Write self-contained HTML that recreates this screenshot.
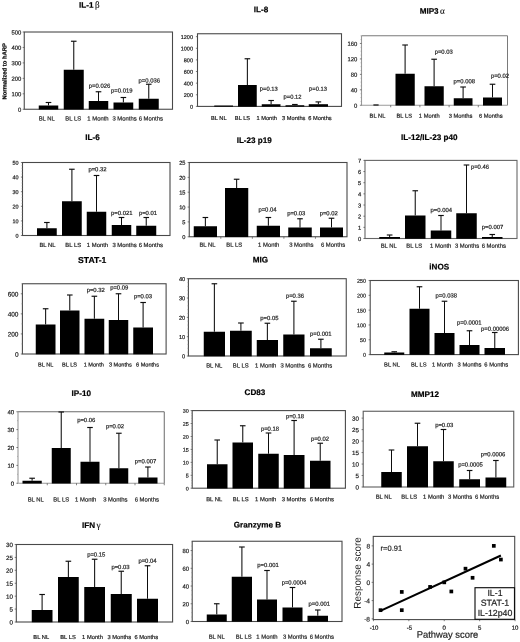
<!DOCTYPE html>
<html><head><meta charset="utf-8"><title>Figure</title>
<style>
html,body{margin:0;padding:0;background:#fff;}
body{width:520px;height:642px;overflow:hidden;font-family:"Liberation Sans",sans-serif;}
svg{display:block;font-family:"Liberation Sans",sans-serif;}
</style></head><body>
<svg width="520" height="642" viewBox="0 0 520 642">
<defs><filter id="bl" x="0" y="0" width="100%" height="100%" filterUnits="userSpaceOnUse"><feGaussianBlur stdDeviation="0.35"/></filter></defs>
<rect width="520" height="642" fill="#fff"/>
<g filter="url(#bl)">
<g id="IL-1">
<rect x="24.25" y="32" width="148.25" height="77.25" fill="none" stroke="#4a4a4a" stroke-width="1.1"/>
<line x1="22.65" y1="109.25" x2="24.25" y2="109.25" stroke="#4a4a4a" stroke-width="0.7"/>
<text transform="translate(21.25,111.66) rotate(0.05)" font-size="5.9" text-anchor="end" stroke="#222" stroke-width="0.2" fill="#222">0</text>
<line x1="22.65" y1="93.8" x2="24.25" y2="93.8" stroke="#4a4a4a" stroke-width="0.7"/>
<text transform="translate(21.25,96.21) rotate(0.05)" font-size="5.9" text-anchor="end" stroke="#222" stroke-width="0.2" fill="#222">100</text>
<line x1="22.65" y1="78.35" x2="24.25" y2="78.35" stroke="#4a4a4a" stroke-width="0.7"/>
<text transform="translate(21.25,80.76) rotate(0.05)" font-size="5.9" text-anchor="end" stroke="#222" stroke-width="0.2" fill="#222">200</text>
<line x1="22.65" y1="62.9" x2="24.25" y2="62.9" stroke="#4a4a4a" stroke-width="0.7"/>
<text transform="translate(21.25,65.31) rotate(0.05)" font-size="5.9" text-anchor="end" stroke="#222" stroke-width="0.2" fill="#222">300</text>
<line x1="22.65" y1="47.45" x2="24.25" y2="47.45" stroke="#4a4a4a" stroke-width="0.7"/>
<text transform="translate(21.25,49.86) rotate(0.05)" font-size="5.9" text-anchor="end" stroke="#222" stroke-width="0.2" fill="#222">400</text>
<line x1="22.65" y1="32" x2="24.25" y2="32" stroke="#4a4a4a" stroke-width="0.7"/>
<text transform="translate(21.25,34.41) rotate(0.05)" font-size="5.9" text-anchor="end" stroke="#222" stroke-width="0.2" fill="#222">500</text>
<rect x="38.75" y="105.5" width="19.5" height="4.05" fill="#050505"/>
<line x1="48.5" y1="105.5" x2="48.5" y2="102.5" stroke="#111" stroke-width="1.05"/>
<line x1="45.7" y1="102.5" x2="51.3" y2="102.5" stroke="#111" stroke-width="1.15"/>
<rect x="63.75" y="69.75" width="20" height="39.8" fill="#050505"/>
<line x1="73.75" y1="69.75" x2="73.75" y2="41.25" stroke="#111" stroke-width="1.05"/>
<line x1="70.95" y1="41.25" x2="76.55" y2="41.25" stroke="#111" stroke-width="1.15"/>
<rect x="88.75" y="101" width="19.5" height="8.55" fill="#050505"/>
<line x1="98.5" y1="101" x2="98.5" y2="91.75" stroke="#111" stroke-width="1.05"/>
<line x1="95.7" y1="91.75" x2="101.3" y2="91.75" stroke="#111" stroke-width="1.15"/>
<rect x="113.5" y="102.5" width="19.75" height="7.05" fill="#050505"/>
<line x1="123.38" y1="102.5" x2="123.38" y2="97.5" stroke="#111" stroke-width="1.05"/>
<line x1="120.58" y1="97.5" x2="126.17" y2="97.5" stroke="#111" stroke-width="1.15"/>
<rect x="138.75" y="98.75" width="20" height="10.8" fill="#050505"/>
<line x1="148.75" y1="98.75" x2="148.75" y2="84.25" stroke="#111" stroke-width="1.05"/>
<line x1="145.95" y1="84.25" x2="151.55" y2="84.25" stroke="#111" stroke-width="1.15"/>
<text transform="translate(99.5,87.66) rotate(0.05)" font-size="5.9" text-anchor="middle" stroke="#222" stroke-width="0.2" fill="#222">p=0.026</text>
<text transform="translate(121.75,92.41) rotate(0.05)" font-size="5.9" text-anchor="middle" stroke="#222" stroke-width="0.2" fill="#222">p=0.019</text>
<text transform="translate(149.25,82.41) rotate(0.05)" font-size="5.9" text-anchor="middle" stroke="#222" stroke-width="0.2" fill="#222">p=0.036</text>
<text transform="translate(46.75,120.51) rotate(0.05)" font-size="5.9" text-anchor="middle" stroke="#222" stroke-width="0.2" fill="#222">BL NL</text>
<text transform="translate(73.25,120.51) rotate(0.05)" font-size="5.9" text-anchor="middle" stroke="#222" stroke-width="0.2" fill="#222">BL LS</text>
<text transform="translate(98,120.51) rotate(0.05)" font-size="5.9" text-anchor="middle" stroke="#222" stroke-width="0.2" fill="#222">1 Month</text>
<text transform="translate(124.5,120.51) rotate(0.05)" font-size="5.9" text-anchor="middle" stroke="#222" stroke-width="0.2" fill="#222">3 Months</text>
<text transform="translate(150.75,120.51) rotate(0.05)" font-size="5.9" text-anchor="middle" stroke="#222" stroke-width="0.2" fill="#222">6 Months</text>
<text transform="translate(89.3,7.72) rotate(0.05)" font-size="8.15" text-anchor="middle" font-weight="bold" stroke="#000" stroke-width="0.2" fill="#000">IL-1<tspan font-weight="normal" stroke-width="0.1" font-family="Liberation Serif, serif" font-size="9.15" dx="1.4">β</tspan></text>
</g>
<g id="IL-8">
<rect x="197.5" y="33.75" width="144" height="72.65" fill="none" stroke="#4a4a4a" stroke-width="1.1"/>
<line x1="195.9" y1="106.4" x2="197.5" y2="106.4" stroke="#4a4a4a" stroke-width="0.7"/>
<text transform="translate(193,108.67) rotate(0.05)" font-size="5.5" text-anchor="end" stroke="#222" stroke-width="0.2" fill="#222">0</text>
<line x1="195.9" y1="94.78" x2="197.5" y2="94.78" stroke="#4a4a4a" stroke-width="0.7"/>
<text transform="translate(193,97.05) rotate(0.05)" font-size="5.5" text-anchor="end" stroke="#222" stroke-width="0.2" fill="#222">200</text>
<line x1="195.9" y1="83.15" x2="197.5" y2="83.15" stroke="#4a4a4a" stroke-width="0.7"/>
<text transform="translate(193,85.42) rotate(0.05)" font-size="5.5" text-anchor="end" stroke="#222" stroke-width="0.2" fill="#222">400</text>
<line x1="195.9" y1="71.53" x2="197.5" y2="71.53" stroke="#4a4a4a" stroke-width="0.7"/>
<text transform="translate(193,73.8) rotate(0.05)" font-size="5.5" text-anchor="end" stroke="#222" stroke-width="0.2" fill="#222">600</text>
<line x1="195.9" y1="59.9" x2="197.5" y2="59.9" stroke="#4a4a4a" stroke-width="0.7"/>
<text transform="translate(193,62.17) rotate(0.05)" font-size="5.5" text-anchor="end" stroke="#222" stroke-width="0.2" fill="#222">800</text>
<line x1="195.9" y1="48.28" x2="197.5" y2="48.28" stroke="#4a4a4a" stroke-width="0.7"/>
<text transform="translate(193,50.55) rotate(0.05)" font-size="5.5" text-anchor="end" stroke="#222" stroke-width="0.2" fill="#222">1000</text>
<line x1="195.9" y1="36.66" x2="197.5" y2="36.66" stroke="#4a4a4a" stroke-width="0.7"/>
<text transform="translate(193,38.93) rotate(0.05)" font-size="5.5" text-anchor="end" stroke="#222" stroke-width="0.2" fill="#222">1200</text>
<rect x="214.25" y="105.5" width="18.75" height="1.2" fill="#050505"/>
<rect x="238" y="85" width="18.75" height="21.7" fill="#050505"/>
<line x1="247.38" y1="85" x2="247.38" y2="58.75" stroke="#111" stroke-width="1.05"/>
<line x1="244.57" y1="58.75" x2="250.18" y2="58.75" stroke="#111" stroke-width="1.15"/>
<rect x="261.75" y="104.25" width="18.75" height="2.45" fill="#050505"/>
<line x1="271.12" y1="104.25" x2="271.12" y2="100.5" stroke="#111" stroke-width="1.05"/>
<line x1="268.32" y1="100.5" x2="273.93" y2="100.5" stroke="#111" stroke-width="1.15"/>
<rect x="285.5" y="105.25" width="18.75" height="1.45" fill="#050505"/>
<line x1="294.88" y1="105.25" x2="294.88" y2="104.5" stroke="#111" stroke-width="1.05"/>
<line x1="292.07" y1="104.5" x2="297.68" y2="104.5" stroke="#111" stroke-width="1.15"/>
<rect x="308.75" y="104.2" width="19.25" height="2.5" fill="#050505"/>
<line x1="318.38" y1="104.2" x2="318.38" y2="101.9" stroke="#111" stroke-width="1.05"/>
<line x1="315.57" y1="101.9" x2="321.18" y2="101.9" stroke="#111" stroke-width="1.15"/>
<text transform="translate(268.75,90.63) rotate(0.05)" font-size="5.8" text-anchor="middle" stroke="#222" stroke-width="0.2" fill="#222">p=0.13</text>
<text transform="translate(292.5,98.63) rotate(0.05)" font-size="5.8" text-anchor="middle" stroke="#222" stroke-width="0.2" fill="#222">p=0.12</text>
<text transform="translate(318,90.63) rotate(0.05)" font-size="5.8" text-anchor="middle" stroke="#222" stroke-width="0.2" fill="#222">p=0.13</text>
<text transform="translate(218.75,120.04) rotate(0.05)" font-size="5.7" text-anchor="middle" stroke="#222" stroke-width="0.2" fill="#222">BL NL</text>
<text transform="translate(242.5,120.04) rotate(0.05)" font-size="5.7" text-anchor="middle" stroke="#222" stroke-width="0.2" fill="#222">BL LS</text>
<text transform="translate(266.75,120.04) rotate(0.05)" font-size="5.7" text-anchor="middle" stroke="#222" stroke-width="0.2" fill="#222">1 Month</text>
<text transform="translate(293.75,120.04) rotate(0.05)" font-size="5.7" text-anchor="middle" stroke="#222" stroke-width="0.2" fill="#222">3 Months</text>
<text transform="translate(320,120.04) rotate(0.05)" font-size="5.7" text-anchor="middle" stroke="#222" stroke-width="0.2" fill="#222">6 Months</text>
<text transform="translate(261,12.32) rotate(0.05)" font-size="8.15" text-anchor="middle" font-weight="bold" stroke="#000" stroke-width="0.2" fill="#000">IL-8</text>
</g>
<g id="MIP3a">
<path d="M361.5 35.75H507.5V105.25" fill="none" stroke="#7a7a7a" stroke-width="1"/>
<path d="M361.5 35.75V105.25H507.5" fill="none" stroke="#9a9a9a" stroke-width="1.1"/>
<line x1="359.9" y1="105.25" x2="361.5" y2="105.25" stroke="#4a4a4a" stroke-width="0.7"/>
<text transform="translate(357.25,107.66) rotate(0.05)" font-size="5.9" text-anchor="end" stroke="#222" stroke-width="0.2" fill="#222">0</text>
<line x1="359.9" y1="89.81" x2="361.5" y2="89.81" stroke="#4a4a4a" stroke-width="0.7"/>
<text transform="translate(357.25,92.22) rotate(0.05)" font-size="5.9" text-anchor="end" stroke="#222" stroke-width="0.2" fill="#222">40</text>
<line x1="359.9" y1="74.36" x2="361.5" y2="74.36" stroke="#4a4a4a" stroke-width="0.7"/>
<text transform="translate(357.25,76.77) rotate(0.05)" font-size="5.9" text-anchor="end" stroke="#222" stroke-width="0.2" fill="#222">80</text>
<line x1="359.9" y1="58.92" x2="361.5" y2="58.92" stroke="#4a4a4a" stroke-width="0.7"/>
<text transform="translate(357.25,61.33) rotate(0.05)" font-size="5.9" text-anchor="end" stroke="#222" stroke-width="0.2" fill="#222">120</text>
<line x1="359.9" y1="43.47" x2="361.5" y2="43.47" stroke="#4a4a4a" stroke-width="0.7"/>
<text transform="translate(357.25,45.88) rotate(0.05)" font-size="5.9" text-anchor="end" stroke="#222" stroke-width="0.2" fill="#222">160</text>
<line x1="360.5" y1="101.39" x2="361.5" y2="101.39" stroke="#8a8a8a" stroke-width="0.5"/>
<line x1="360.5" y1="97.53" x2="361.5" y2="97.53" stroke="#8a8a8a" stroke-width="0.5"/>
<line x1="360.5" y1="93.67" x2="361.5" y2="93.67" stroke="#8a8a8a" stroke-width="0.5"/>
<line x1="360.5" y1="85.94" x2="361.5" y2="85.94" stroke="#8a8a8a" stroke-width="0.5"/>
<line x1="360.5" y1="82.08" x2="361.5" y2="82.08" stroke="#8a8a8a" stroke-width="0.5"/>
<line x1="360.5" y1="78.22" x2="361.5" y2="78.22" stroke="#8a8a8a" stroke-width="0.5"/>
<line x1="360.5" y1="70.5" x2="361.5" y2="70.5" stroke="#8a8a8a" stroke-width="0.5"/>
<line x1="360.5" y1="66.64" x2="361.5" y2="66.64" stroke="#8a8a8a" stroke-width="0.5"/>
<line x1="360.5" y1="62.78" x2="361.5" y2="62.78" stroke="#8a8a8a" stroke-width="0.5"/>
<line x1="360.5" y1="55.06" x2="361.5" y2="55.06" stroke="#8a8a8a" stroke-width="0.5"/>
<line x1="360.5" y1="51.19" x2="361.5" y2="51.19" stroke="#8a8a8a" stroke-width="0.5"/>
<line x1="360.5" y1="47.33" x2="361.5" y2="47.33" stroke="#8a8a8a" stroke-width="0.5"/>
<line x1="360.5" y1="39.61" x2="361.5" y2="39.61" stroke="#8a8a8a" stroke-width="0.5"/>
<line x1="360.5" y1="35.75" x2="361.5" y2="35.75" stroke="#8a8a8a" stroke-width="0.5"/>
<line x1="390.7" y1="105.25" x2="390.7" y2="107.25" stroke="#4a4a4a" stroke-width="0.7"/>
<line x1="419.9" y1="105.25" x2="419.9" y2="107.25" stroke="#4a4a4a" stroke-width="0.7"/>
<line x1="449.1" y1="105.25" x2="449.1" y2="107.25" stroke="#4a4a4a" stroke-width="0.7"/>
<line x1="478.3" y1="105.25" x2="478.3" y2="107.25" stroke="#4a4a4a" stroke-width="0.7"/>
<rect x="373.4" y="104.4" width="5.2" height="1.15" fill="#050505"/>
<rect x="395.5" y="73.75" width="19.25" height="31.8" fill="#050505"/>
<line x1="405.12" y1="73.75" x2="405.12" y2="45" stroke="#111" stroke-width="1.05"/>
<line x1="402.32" y1="45" x2="407.93" y2="45" stroke="#111" stroke-width="1.15"/>
<rect x="424.5" y="86.25" width="19.25" height="19.3" fill="#050505"/>
<line x1="434.12" y1="86.25" x2="434.12" y2="59.25" stroke="#111" stroke-width="1.05"/>
<line x1="431.32" y1="59.25" x2="436.93" y2="59.25" stroke="#111" stroke-width="1.15"/>
<rect x="453.75" y="98.25" width="18.75" height="7.3" fill="#050505"/>
<line x1="463.12" y1="98.25" x2="463.12" y2="87" stroke="#111" stroke-width="1.05"/>
<line x1="460.32" y1="87" x2="465.93" y2="87" stroke="#111" stroke-width="1.15"/>
<rect x="483" y="97.5" width="19" height="8.05" fill="#050505"/>
<line x1="492.5" y1="97.5" x2="492.5" y2="84.25" stroke="#111" stroke-width="1.05"/>
<line x1="489.7" y1="84.25" x2="495.3" y2="84.25" stroke="#111" stroke-width="1.15"/>
<text transform="translate(443.75,53.66) rotate(0.05)" font-size="5.9" text-anchor="middle" stroke="#222" stroke-width="0.2" fill="#222">p=0.03</text>
<text transform="translate(464.25,83.16) rotate(0.05)" font-size="5.9" text-anchor="middle" stroke="#222" stroke-width="0.2" fill="#222">p=0.008</text>
<text transform="translate(500,77.66) rotate(0.05)" font-size="5.9" text-anchor="middle" stroke="#222" stroke-width="0.2" fill="#222">p=0.02</text>
<text transform="translate(377.5,117.81) rotate(0.05)" font-size="5.75" text-anchor="middle" stroke="#222" stroke-width="0.2" fill="#222">BL NL</text>
<text transform="translate(404.25,117.81) rotate(0.05)" font-size="5.75" text-anchor="middle" stroke="#222" stroke-width="0.2" fill="#222">BL LS</text>
<text transform="translate(429.25,117.81) rotate(0.05)" font-size="5.75" text-anchor="middle" stroke="#222" stroke-width="0.2" fill="#222">1 Month</text>
<text transform="translate(460.5,117.81) rotate(0.05)" font-size="5.75" text-anchor="middle" stroke="#222" stroke-width="0.2" fill="#222">3 Months</text>
<text transform="translate(490.75,117.81) rotate(0.05)" font-size="5.75" text-anchor="middle" stroke="#222" stroke-width="0.2" fill="#222">6 Months</text>
<text transform="translate(432.2,13.67) rotate(0.05)" font-size="8.15" text-anchor="middle" font-weight="bold" stroke="#000" stroke-width="0.2" fill="#000">MIP3<tspan font-weight="normal" stroke-width="0.1" font-family="Liberation Serif, serif" font-size="9.15" dx="1.4">α</tspan></text>
</g>
<g id="IL-6">
<rect x="22.5" y="162.5" width="147.5" height="73" fill="none" stroke="#4a4a4a" stroke-width="1.1"/>
<line x1="20.9" y1="235.5" x2="22.5" y2="235.5" stroke="#4a4a4a" stroke-width="0.7"/>
<text transform="translate(18.6,237.77) rotate(0.05)" font-size="5.5" text-anchor="end" stroke="#222" stroke-width="0.2" fill="#222">0</text>
<line x1="20.9" y1="220.9" x2="22.5" y2="220.9" stroke="#4a4a4a" stroke-width="0.7"/>
<text transform="translate(18.6,223.17) rotate(0.05)" font-size="5.5" text-anchor="end" stroke="#222" stroke-width="0.2" fill="#222">10</text>
<line x1="20.9" y1="206.3" x2="22.5" y2="206.3" stroke="#4a4a4a" stroke-width="0.7"/>
<text transform="translate(18.6,208.57) rotate(0.05)" font-size="5.5" text-anchor="end" stroke="#222" stroke-width="0.2" fill="#222">20</text>
<line x1="20.9" y1="191.7" x2="22.5" y2="191.7" stroke="#4a4a4a" stroke-width="0.7"/>
<text transform="translate(18.6,193.97) rotate(0.05)" font-size="5.5" text-anchor="end" stroke="#222" stroke-width="0.2" fill="#222">30</text>
<line x1="20.9" y1="177.1" x2="22.5" y2="177.1" stroke="#4a4a4a" stroke-width="0.7"/>
<text transform="translate(18.6,179.37) rotate(0.05)" font-size="5.5" text-anchor="end" stroke="#222" stroke-width="0.2" fill="#222">40</text>
<line x1="20.9" y1="162.5" x2="22.5" y2="162.5" stroke="#4a4a4a" stroke-width="0.7"/>
<text transform="translate(18.6,164.77) rotate(0.05)" font-size="5.5" text-anchor="end" stroke="#222" stroke-width="0.2" fill="#222">50</text>
<line x1="21.5" y1="232.58" x2="22.5" y2="232.58" stroke="#8a8a8a" stroke-width="0.5"/>
<line x1="21.5" y1="229.66" x2="22.5" y2="229.66" stroke="#8a8a8a" stroke-width="0.5"/>
<line x1="21.5" y1="226.74" x2="22.5" y2="226.74" stroke="#8a8a8a" stroke-width="0.5"/>
<line x1="21.5" y1="223.82" x2="22.5" y2="223.82" stroke="#8a8a8a" stroke-width="0.5"/>
<line x1="21.5" y1="217.98" x2="22.5" y2="217.98" stroke="#8a8a8a" stroke-width="0.5"/>
<line x1="21.5" y1="215.06" x2="22.5" y2="215.06" stroke="#8a8a8a" stroke-width="0.5"/>
<line x1="21.5" y1="212.14" x2="22.5" y2="212.14" stroke="#8a8a8a" stroke-width="0.5"/>
<line x1="21.5" y1="209.22" x2="22.5" y2="209.22" stroke="#8a8a8a" stroke-width="0.5"/>
<line x1="21.5" y1="203.38" x2="22.5" y2="203.38" stroke="#8a8a8a" stroke-width="0.5"/>
<line x1="21.5" y1="200.46" x2="22.5" y2="200.46" stroke="#8a8a8a" stroke-width="0.5"/>
<line x1="21.5" y1="197.54" x2="22.5" y2="197.54" stroke="#8a8a8a" stroke-width="0.5"/>
<line x1="21.5" y1="194.62" x2="22.5" y2="194.62" stroke="#8a8a8a" stroke-width="0.5"/>
<line x1="21.5" y1="188.78" x2="22.5" y2="188.78" stroke="#8a8a8a" stroke-width="0.5"/>
<line x1="21.5" y1="185.86" x2="22.5" y2="185.86" stroke="#8a8a8a" stroke-width="0.5"/>
<line x1="21.5" y1="182.94" x2="22.5" y2="182.94" stroke="#8a8a8a" stroke-width="0.5"/>
<line x1="21.5" y1="180.02" x2="22.5" y2="180.02" stroke="#8a8a8a" stroke-width="0.5"/>
<line x1="21.5" y1="174.18" x2="22.5" y2="174.18" stroke="#8a8a8a" stroke-width="0.5"/>
<line x1="21.5" y1="171.26" x2="22.5" y2="171.26" stroke="#8a8a8a" stroke-width="0.5"/>
<line x1="21.5" y1="168.34" x2="22.5" y2="168.34" stroke="#8a8a8a" stroke-width="0.5"/>
<line x1="21.5" y1="165.42" x2="22.5" y2="165.42" stroke="#8a8a8a" stroke-width="0.5"/>
<rect x="37" y="228.25" width="19.75" height="7.55" fill="#050505"/>
<line x1="46.88" y1="228.25" x2="46.88" y2="222.5" stroke="#111" stroke-width="1.05"/>
<line x1="44.08" y1="222.5" x2="49.67" y2="222.5" stroke="#111" stroke-width="1.15"/>
<rect x="62" y="201.25" width="19.75" height="34.55" fill="#050505"/>
<line x1="71.88" y1="201.25" x2="71.88" y2="169.25" stroke="#111" stroke-width="1.05"/>
<line x1="69.08" y1="169.25" x2="74.67" y2="169.25" stroke="#111" stroke-width="1.15"/>
<rect x="86.75" y="211.75" width="19.5" height="24.05" fill="#050505"/>
<line x1="96.5" y1="211.75" x2="96.5" y2="175.5" stroke="#111" stroke-width="1.05"/>
<line x1="93.7" y1="175.5" x2="99.3" y2="175.5" stroke="#111" stroke-width="1.15"/>
<rect x="111.75" y="225" width="19.5" height="10.8" fill="#050505"/>
<line x1="121.5" y1="225" x2="121.5" y2="217.5" stroke="#111" stroke-width="1.05"/>
<line x1="118.7" y1="217.5" x2="124.3" y2="217.5" stroke="#111" stroke-width="1.15"/>
<rect x="136.25" y="225.75" width="20" height="10.05" fill="#050505"/>
<line x1="146.25" y1="225.75" x2="146.25" y2="217.5" stroke="#111" stroke-width="1.05"/>
<line x1="143.45" y1="217.5" x2="149.05" y2="217.5" stroke="#111" stroke-width="1.15"/>
<text transform="translate(97.5,171.16) rotate(0.05)" font-size="5.9" text-anchor="middle" stroke="#222" stroke-width="0.2" fill="#222">p=0.32</text>
<text transform="translate(121.75,214.91) rotate(0.05)" font-size="5.9" text-anchor="middle" stroke="#222" stroke-width="0.2" fill="#222">p=0.021</text>
<text transform="translate(148,214.91) rotate(0.05)" font-size="5.9" text-anchor="middle" stroke="#222" stroke-width="0.2" fill="#222">p=0.01</text>
<text transform="translate(47.5,247.11) rotate(0.05)" font-size="5.9" text-anchor="middle" stroke="#222" stroke-width="0.2" fill="#222">BL NL</text>
<text transform="translate(73.25,247.11) rotate(0.05)" font-size="5.9" text-anchor="middle" stroke="#222" stroke-width="0.2" fill="#222">BL LS</text>
<text transform="translate(97.5,247.11) rotate(0.05)" font-size="5.9" text-anchor="middle" stroke="#222" stroke-width="0.2" fill="#222">1 Month</text>
<text transform="translate(124.5,247.11) rotate(0.05)" font-size="5.9" text-anchor="middle" stroke="#222" stroke-width="0.2" fill="#222">3 Months</text>
<text transform="translate(150.75,247.11) rotate(0.05)" font-size="5.9" text-anchor="middle" stroke="#222" stroke-width="0.2" fill="#222">6 Months</text>
<text transform="translate(92.5,139.92) rotate(0.05)" font-size="8.15" text-anchor="middle" font-weight="bold" stroke="#000" stroke-width="0.2" fill="#000">IL-6</text>
</g>
<g id="IL-23">
<rect x="189.25" y="162.5" width="157.75" height="74.25" fill="none" stroke="#4a4a4a" stroke-width="1.1"/>
<line x1="187.65" y1="236.75" x2="189.25" y2="236.75" stroke="#4a4a4a" stroke-width="0.7"/>
<text transform="translate(185.45,239.08) rotate(0.05)" font-size="5.67" text-anchor="end" stroke="#222" stroke-width="0.2" fill="#222">0</text>
<line x1="187.65" y1="221.9" x2="189.25" y2="221.9" stroke="#4a4a4a" stroke-width="0.7"/>
<text transform="translate(185.45,224.23) rotate(0.05)" font-size="5.67" text-anchor="end" stroke="#222" stroke-width="0.2" fill="#222">5</text>
<line x1="187.65" y1="207.05" x2="189.25" y2="207.05" stroke="#4a4a4a" stroke-width="0.7"/>
<text transform="translate(185.45,209.38) rotate(0.05)" font-size="5.67" text-anchor="end" stroke="#222" stroke-width="0.2" fill="#222">10</text>
<line x1="187.65" y1="192.2" x2="189.25" y2="192.2" stroke="#4a4a4a" stroke-width="0.7"/>
<text transform="translate(185.45,194.53) rotate(0.05)" font-size="5.67" text-anchor="end" stroke="#222" stroke-width="0.2" fill="#222">15</text>
<line x1="187.65" y1="177.35" x2="189.25" y2="177.35" stroke="#4a4a4a" stroke-width="0.7"/>
<text transform="translate(185.45,179.68) rotate(0.05)" font-size="5.67" text-anchor="end" stroke="#222" stroke-width="0.2" fill="#222">20</text>
<line x1="187.65" y1="162.5" x2="189.25" y2="162.5" stroke="#4a4a4a" stroke-width="0.7"/>
<text transform="translate(185.45,164.83) rotate(0.05)" font-size="5.67" text-anchor="end" stroke="#222" stroke-width="0.2" fill="#222">25</text>
<line x1="220.8" y1="236.75" x2="220.8" y2="238.75" stroke="#4a4a4a" stroke-width="0.7"/>
<line x1="252.35" y1="236.75" x2="252.35" y2="238.75" stroke="#4a4a4a" stroke-width="0.7"/>
<line x1="283.9" y1="236.75" x2="283.9" y2="238.75" stroke="#4a4a4a" stroke-width="0.7"/>
<line x1="315.45" y1="236.75" x2="315.45" y2="238.75" stroke="#4a4a4a" stroke-width="0.7"/>
<rect x="193.75" y="226.25" width="23.25" height="10.8" fill="#050505"/>
<line x1="205.38" y1="226.25" x2="205.38" y2="217.5" stroke="#111" stroke-width="1.05"/>
<line x1="202.57" y1="217.5" x2="208.18" y2="217.5" stroke="#111" stroke-width="1.15"/>
<rect x="225" y="188" width="23.25" height="49.05" fill="#050505"/>
<line x1="236.62" y1="188" x2="236.62" y2="179.25" stroke="#111" stroke-width="1.05"/>
<line x1="233.82" y1="179.25" x2="239.43" y2="179.25" stroke="#111" stroke-width="1.15"/>
<rect x="256.75" y="225.75" width="23.25" height="11.3" fill="#050505"/>
<line x1="268.38" y1="225.75" x2="268.38" y2="217.5" stroke="#111" stroke-width="1.05"/>
<line x1="265.57" y1="217.5" x2="271.18" y2="217.5" stroke="#111" stroke-width="1.15"/>
<rect x="288.25" y="227.5" width="23.5" height="9.55" fill="#050505"/>
<line x1="300" y1="227.5" x2="300" y2="218.75" stroke="#111" stroke-width="1.05"/>
<line x1="297.2" y1="218.75" x2="302.8" y2="218.75" stroke="#111" stroke-width="1.15"/>
<rect x="320" y="227.5" width="23" height="9.55" fill="#050505"/>
<line x1="331.5" y1="227.5" x2="331.5" y2="218.25" stroke="#111" stroke-width="1.05"/>
<line x1="328.7" y1="218.25" x2="334.3" y2="218.25" stroke="#111" stroke-width="1.15"/>
<text transform="translate(267.5,211.41) rotate(0.05)" font-size="5.9" text-anchor="middle" stroke="#222" stroke-width="0.2" fill="#222">p=0.04</text>
<text transform="translate(296.25,215.16) rotate(0.05)" font-size="5.9" text-anchor="middle" stroke="#222" stroke-width="0.2" fill="#222">p=0.03</text>
<text transform="translate(328.75,215.16) rotate(0.05)" font-size="5.9" text-anchor="middle" stroke="#222" stroke-width="0.2" fill="#222">p=0.02</text>
<text transform="translate(207.5,246.71) rotate(0.05)" font-size="5.9" text-anchor="middle" stroke="#222" stroke-width="0.2" fill="#222">BL NL</text>
<text transform="translate(234.25,246.71) rotate(0.05)" font-size="5.9" text-anchor="middle" stroke="#222" stroke-width="0.2" fill="#222">BL LS</text>
<text transform="translate(268.75,246.71) rotate(0.05)" font-size="5.9" text-anchor="middle" stroke="#222" stroke-width="0.2" fill="#222">1 Month</text>
<text transform="translate(301.25,246.71) rotate(0.05)" font-size="5.9" text-anchor="middle" stroke="#222" stroke-width="0.2" fill="#222">3 Months</text>
<text transform="translate(333,246.71) rotate(0.05)" font-size="5.9" text-anchor="middle" stroke="#222" stroke-width="0.2" fill="#222">6 Months</text>
<text transform="translate(254.25,142.92) rotate(0.05)" font-size="8.15" text-anchor="middle" font-weight="bold" stroke="#000" stroke-width="0.2" fill="#000">IL-23 p19</text>
</g>
<g id="IL-12">
<rect x="365" y="160.4" width="152" height="78.1" fill="none" stroke="#666" stroke-width="1.1"/>
<line x1="363.4" y1="238.5" x2="365" y2="238.5" stroke="#4a4a4a" stroke-width="0.7"/>
<text transform="translate(361.2,240.88) rotate(0.05)" font-size="5.8" text-anchor="end" stroke="#222" stroke-width="0.2" fill="#222">0</text>
<line x1="363.4" y1="227.34" x2="365" y2="227.34" stroke="#4a4a4a" stroke-width="0.7"/>
<text transform="translate(361.2,229.72) rotate(0.05)" font-size="5.8" text-anchor="end" stroke="#222" stroke-width="0.2" fill="#222">1</text>
<line x1="363.4" y1="216.19" x2="365" y2="216.19" stroke="#4a4a4a" stroke-width="0.7"/>
<text transform="translate(361.2,218.56) rotate(0.05)" font-size="5.8" text-anchor="end" stroke="#222" stroke-width="0.2" fill="#222">2</text>
<line x1="363.4" y1="205.03" x2="365" y2="205.03" stroke="#4a4a4a" stroke-width="0.7"/>
<text transform="translate(361.2,207.4) rotate(0.05)" font-size="5.8" text-anchor="end" stroke="#222" stroke-width="0.2" fill="#222">3</text>
<line x1="363.4" y1="193.87" x2="365" y2="193.87" stroke="#4a4a4a" stroke-width="0.7"/>
<text transform="translate(361.2,196.25) rotate(0.05)" font-size="5.8" text-anchor="end" stroke="#222" stroke-width="0.2" fill="#222">4</text>
<line x1="363.4" y1="182.71" x2="365" y2="182.71" stroke="#4a4a4a" stroke-width="0.7"/>
<text transform="translate(361.2,185.09) rotate(0.05)" font-size="5.8" text-anchor="end" stroke="#222" stroke-width="0.2" fill="#222">5</text>
<line x1="363.4" y1="171.56" x2="365" y2="171.56" stroke="#4a4a4a" stroke-width="0.7"/>
<text transform="translate(361.2,173.93) rotate(0.05)" font-size="5.8" text-anchor="end" stroke="#222" stroke-width="0.2" fill="#222">6</text>
<line x1="363.4" y1="160.4" x2="365" y2="160.4" stroke="#4a4a4a" stroke-width="0.7"/>
<text transform="translate(361.2,162.78) rotate(0.05)" font-size="5.8" text-anchor="end" stroke="#222" stroke-width="0.2" fill="#222">7</text>
<rect x="379.25" y="237" width="20.75" height="1.8" fill="#050505"/>
<line x1="389.62" y1="237" x2="389.62" y2="235" stroke="#111" stroke-width="1.05"/>
<line x1="386.82" y1="235" x2="392.43" y2="235" stroke="#111" stroke-width="1.15"/>
<rect x="405" y="215.5" width="20.5" height="23.3" fill="#050505"/>
<line x1="415.25" y1="215.5" x2="415.25" y2="190.75" stroke="#111" stroke-width="1.05"/>
<line x1="412.45" y1="190.75" x2="418.05" y2="190.75" stroke="#111" stroke-width="1.15"/>
<rect x="430.75" y="230.5" width="20.5" height="8.3" fill="#050505"/>
<line x1="441" y1="230.5" x2="441" y2="215.5" stroke="#111" stroke-width="1.05"/>
<line x1="438.2" y1="215.5" x2="443.8" y2="215.5" stroke="#111" stroke-width="1.15"/>
<rect x="456.25" y="213.25" width="20.5" height="25.55" fill="#050505"/>
<line x1="466.5" y1="213.25" x2="466.5" y2="165" stroke="#111" stroke-width="1.05"/>
<line x1="463.7" y1="165" x2="469.3" y2="165" stroke="#111" stroke-width="1.15"/>
<rect x="482" y="237" width="20.5" height="1.8" fill="#050505"/>
<line x1="492.25" y1="237" x2="492.25" y2="234.5" stroke="#111" stroke-width="1.05"/>
<line x1="489.45" y1="234.5" x2="495.05" y2="234.5" stroke="#111" stroke-width="1.15"/>
<text transform="translate(441.25,211.91) rotate(0.05)" font-size="5.9" text-anchor="middle" stroke="#222" stroke-width="0.2" fill="#222">p=0.004</text>
<text transform="translate(480,168.66) rotate(0.05)" font-size="5.9" text-anchor="middle" stroke="#222" stroke-width="0.2" fill="#222">p=0.46</text>
<text transform="translate(492.5,228.91) rotate(0.05)" font-size="5.9" text-anchor="middle" stroke="#222" stroke-width="0.2" fill="#222">p=0.007</text>
<text transform="translate(388.75,247.86) rotate(0.05)" font-size="5.9" text-anchor="middle" stroke="#222" stroke-width="0.2" fill="#222">BL NL</text>
<text transform="translate(414.25,247.86) rotate(0.05)" font-size="5.9" text-anchor="middle" stroke="#222" stroke-width="0.2" fill="#222">BL LS</text>
<text transform="translate(440.75,247.86) rotate(0.05)" font-size="5.9" text-anchor="middle" stroke="#222" stroke-width="0.2" fill="#222">1 Month</text>
<text transform="translate(467,247.86) rotate(0.05)" font-size="5.9" text-anchor="middle" stroke="#222" stroke-width="0.2" fill="#222">3 Months</text>
<text transform="translate(493.75,247.86) rotate(0.05)" font-size="5.9" text-anchor="middle" stroke="#222" stroke-width="0.2" fill="#222">6 Months</text>
<text transform="translate(429.25,140.02) rotate(0.05)" font-size="8.15" text-anchor="middle" font-weight="bold" stroke="#000" stroke-width="0.2" fill="#000">IL-12/IL-23 p40</text>
</g>
<g id="STAT-1">
<rect x="22.4" y="283.75" width="143.7" height="70.25" fill="none" stroke="#4a4a4a" stroke-width="1.1"/>
<line x1="20.8" y1="354" x2="22.4" y2="354" stroke="#4a4a4a" stroke-width="0.7"/>
<text transform="translate(18.5,356.63) rotate(0.05)" font-size="6.5" text-anchor="end" stroke="#222" stroke-width="0.2" fill="#222">0</text>
<line x1="20.8" y1="333.93" x2="22.4" y2="333.93" stroke="#4a4a4a" stroke-width="0.7"/>
<text transform="translate(18.5,336.56) rotate(0.05)" font-size="6.5" text-anchor="end" stroke="#222" stroke-width="0.2" fill="#222">200</text>
<line x1="20.8" y1="313.86" x2="22.4" y2="313.86" stroke="#4a4a4a" stroke-width="0.7"/>
<text transform="translate(18.5,316.48) rotate(0.05)" font-size="6.5" text-anchor="end" stroke="#222" stroke-width="0.2" fill="#222">400</text>
<line x1="20.8" y1="293.79" x2="22.4" y2="293.79" stroke="#4a4a4a" stroke-width="0.7"/>
<text transform="translate(18.5,296.41) rotate(0.05)" font-size="6.5" text-anchor="end" stroke="#222" stroke-width="0.2" fill="#222">600</text>
<line x1="21.4" y1="343.96" x2="22.4" y2="343.96" stroke="#8a8a8a" stroke-width="0.5"/>
<line x1="21.4" y1="323.89" x2="22.4" y2="323.89" stroke="#8a8a8a" stroke-width="0.5"/>
<line x1="21.4" y1="303.82" x2="22.4" y2="303.82" stroke="#8a8a8a" stroke-width="0.5"/>
<line x1="21.4" y1="283.75" x2="22.4" y2="283.75" stroke="#8a8a8a" stroke-width="0.5"/>
<rect x="35.75" y="324.5" width="19.75" height="29.8" fill="#050505"/>
<line x1="45.62" y1="324.5" x2="45.62" y2="308.75" stroke="#111" stroke-width="1.05"/>
<line x1="42.83" y1="308.75" x2="48.42" y2="308.75" stroke="#111" stroke-width="1.15"/>
<rect x="60" y="310.5" width="19.5" height="43.8" fill="#050505"/>
<line x1="69.75" y1="310.5" x2="69.75" y2="295" stroke="#111" stroke-width="1.05"/>
<line x1="66.95" y1="295" x2="72.55" y2="295" stroke="#111" stroke-width="1.15"/>
<rect x="84.5" y="318.75" width="19.75" height="35.55" fill="#050505"/>
<line x1="94.38" y1="318.75" x2="94.38" y2="296.25" stroke="#111" stroke-width="1.05"/>
<line x1="91.58" y1="296.25" x2="97.17" y2="296.25" stroke="#111" stroke-width="1.15"/>
<rect x="108.75" y="320" width="19.5" height="34.3" fill="#050505"/>
<line x1="118.5" y1="320" x2="118.5" y2="293.75" stroke="#111" stroke-width="1.05"/>
<line x1="115.7" y1="293.75" x2="121.3" y2="293.75" stroke="#111" stroke-width="1.15"/>
<rect x="133.25" y="327.5" width="19.75" height="26.8" fill="#050505"/>
<line x1="143.12" y1="327.5" x2="143.12" y2="302.5" stroke="#111" stroke-width="1.05"/>
<line x1="140.32" y1="302.5" x2="145.93" y2="302.5" stroke="#111" stroke-width="1.15"/>
<text transform="translate(95.75,291.91) rotate(0.05)" font-size="5.9" text-anchor="middle" stroke="#222" stroke-width="0.2" fill="#222">p=0.32</text>
<text transform="translate(119.25,289.41) rotate(0.05)" font-size="5.9" text-anchor="middle" stroke="#222" stroke-width="0.2" fill="#222">p=0.09</text>
<text transform="translate(143,298.16) rotate(0.05)" font-size="5.9" text-anchor="middle" stroke="#222" stroke-width="0.2" fill="#222">p=0.03</text>
<text transform="translate(45.75,366.5) rotate(0.05)" font-size="5.6" text-anchor="middle" stroke="#222" stroke-width="0.2" fill="#222">BL NL</text>
<text transform="translate(69.5,366.5) rotate(0.05)" font-size="5.6" text-anchor="middle" stroke="#222" stroke-width="0.2" fill="#222">BL LS</text>
<text transform="translate(93.75,366.5) rotate(0.05)" font-size="5.6" text-anchor="middle" stroke="#222" stroke-width="0.2" fill="#222">1 Month</text>
<text transform="translate(120.4,366.5) rotate(0.05)" font-size="5.6" text-anchor="middle" stroke="#222" stroke-width="0.2" fill="#222">3 Months</text>
<text transform="translate(147.5,366.5) rotate(0.05)" font-size="5.6" text-anchor="middle" stroke="#222" stroke-width="0.2" fill="#222">6 Months</text>
<text transform="translate(92.2,262.98) rotate(0.05)" font-size="8.6" text-anchor="middle" font-weight="bold" stroke="#000" stroke-width="0.2" fill="#000">STAT-1</text>
</g>
<g id="MIG">
<rect x="188.4" y="278.7" width="157.85" height="77.3" fill="none" stroke="#4a4a4a" stroke-width="1.1"/>
<line x1="186.8" y1="356" x2="188.4" y2="356" stroke="#4a4a4a" stroke-width="0.7"/>
<text transform="translate(185.2,358.33) rotate(0.05)" font-size="5.67" text-anchor="end" stroke="#222" stroke-width="0.2" fill="#222">0</text>
<line x1="186.8" y1="336.68" x2="188.4" y2="336.68" stroke="#4a4a4a" stroke-width="0.7"/>
<text transform="translate(185.2,339) rotate(0.05)" font-size="5.67" text-anchor="end" stroke="#222" stroke-width="0.2" fill="#222">10</text>
<line x1="186.8" y1="317.35" x2="188.4" y2="317.35" stroke="#4a4a4a" stroke-width="0.7"/>
<text transform="translate(185.2,319.68) rotate(0.05)" font-size="5.67" text-anchor="end" stroke="#222" stroke-width="0.2" fill="#222">20</text>
<line x1="186.8" y1="298.02" x2="188.4" y2="298.02" stroke="#4a4a4a" stroke-width="0.7"/>
<text transform="translate(185.2,300.35) rotate(0.05)" font-size="5.67" text-anchor="end" stroke="#222" stroke-width="0.2" fill="#222">30</text>
<line x1="186.8" y1="278.7" x2="188.4" y2="278.7" stroke="#4a4a4a" stroke-width="0.7"/>
<text transform="translate(185.2,281.03) rotate(0.05)" font-size="5.67" text-anchor="end" stroke="#222" stroke-width="0.2" fill="#222">40</text>
<line x1="187.4" y1="352.13" x2="188.4" y2="352.13" stroke="#8a8a8a" stroke-width="0.5"/>
<line x1="187.4" y1="348.27" x2="188.4" y2="348.27" stroke="#8a8a8a" stroke-width="0.5"/>
<line x1="187.4" y1="344.4" x2="188.4" y2="344.4" stroke="#8a8a8a" stroke-width="0.5"/>
<line x1="187.4" y1="340.54" x2="188.4" y2="340.54" stroke="#8a8a8a" stroke-width="0.5"/>
<line x1="187.4" y1="332.81" x2="188.4" y2="332.81" stroke="#8a8a8a" stroke-width="0.5"/>
<line x1="187.4" y1="328.94" x2="188.4" y2="328.94" stroke="#8a8a8a" stroke-width="0.5"/>
<line x1="187.4" y1="325.08" x2="188.4" y2="325.08" stroke="#8a8a8a" stroke-width="0.5"/>
<line x1="187.4" y1="321.21" x2="188.4" y2="321.21" stroke="#8a8a8a" stroke-width="0.5"/>
<line x1="187.4" y1="313.49" x2="188.4" y2="313.49" stroke="#8a8a8a" stroke-width="0.5"/>
<line x1="187.4" y1="309.62" x2="188.4" y2="309.62" stroke="#8a8a8a" stroke-width="0.5"/>
<line x1="187.4" y1="305.75" x2="188.4" y2="305.75" stroke="#8a8a8a" stroke-width="0.5"/>
<line x1="187.4" y1="301.89" x2="188.4" y2="301.89" stroke="#8a8a8a" stroke-width="0.5"/>
<line x1="187.4" y1="294.16" x2="188.4" y2="294.16" stroke="#8a8a8a" stroke-width="0.5"/>
<line x1="187.4" y1="290.29" x2="188.4" y2="290.29" stroke="#8a8a8a" stroke-width="0.5"/>
<line x1="187.4" y1="286.43" x2="188.4" y2="286.43" stroke="#8a8a8a" stroke-width="0.5"/>
<line x1="187.4" y1="282.56" x2="188.4" y2="282.56" stroke="#8a8a8a" stroke-width="0.5"/>
<rect x="203.75" y="331.75" width="21.25" height="24.55" fill="#050505"/>
<line x1="214.38" y1="331.75" x2="214.38" y2="283.75" stroke="#111" stroke-width="1.05"/>
<line x1="211.57" y1="283.75" x2="217.18" y2="283.75" stroke="#111" stroke-width="1.15"/>
<rect x="230" y="330.75" width="21.75" height="25.55" fill="#050505"/>
<line x1="240.88" y1="330.75" x2="240.88" y2="323" stroke="#111" stroke-width="1.05"/>
<line x1="238.07" y1="323" x2="243.68" y2="323" stroke="#111" stroke-width="1.15"/>
<rect x="256.75" y="340" width="21.25" height="16.3" fill="#050505"/>
<line x1="267.38" y1="340" x2="267.38" y2="323.25" stroke="#111" stroke-width="1.05"/>
<line x1="264.57" y1="323.25" x2="270.18" y2="323.25" stroke="#111" stroke-width="1.15"/>
<rect x="283.25" y="334.5" width="21.25" height="21.8" fill="#050505"/>
<line x1="293.88" y1="334.5" x2="293.88" y2="301.25" stroke="#111" stroke-width="1.05"/>
<line x1="291.07" y1="301.25" x2="296.68" y2="301.25" stroke="#111" stroke-width="1.15"/>
<rect x="310" y="348.25" width="21.75" height="8.05" fill="#050505"/>
<line x1="320.88" y1="348.25" x2="320.88" y2="339.25" stroke="#111" stroke-width="1.05"/>
<line x1="318.07" y1="339.25" x2="323.68" y2="339.25" stroke="#111" stroke-width="1.15"/>
<text transform="translate(269.4,320.11) rotate(0.05)" font-size="5.9" text-anchor="middle" stroke="#222" stroke-width="0.2" fill="#222">p=0.05</text>
<text transform="translate(295,297.66) rotate(0.05)" font-size="5.9" text-anchor="middle" stroke="#222" stroke-width="0.2" fill="#222">p=0.36</text>
<text transform="translate(320.75,335.66) rotate(0.05)" font-size="5.9" text-anchor="middle" stroke="#222" stroke-width="0.2" fill="#222">p=0.001</text>
<text transform="translate(214.25,367.61) rotate(0.05)" font-size="5.9" text-anchor="middle" stroke="#222" stroke-width="0.2" fill="#222">BL NL</text>
<text transform="translate(240.75,367.61) rotate(0.05)" font-size="5.9" text-anchor="middle" stroke="#222" stroke-width="0.2" fill="#222">BL LS</text>
<text transform="translate(265.75,367.61) rotate(0.05)" font-size="5.9" text-anchor="middle" stroke="#222" stroke-width="0.2" fill="#222">1 Month</text>
<text transform="translate(292.5,367.61) rotate(0.05)" font-size="5.9" text-anchor="middle" stroke="#222" stroke-width="0.2" fill="#222">3 Months</text>
<text transform="translate(320,367.61) rotate(0.05)" font-size="5.9" text-anchor="middle" stroke="#222" stroke-width="0.2" fill="#222">6 Months</text>
<text transform="translate(260.5,262.52) rotate(0.05)" font-size="8.15" text-anchor="middle" font-weight="bold" stroke="#000" stroke-width="0.2" fill="#000">MIG</text>
</g>
<g id="iNOS">
<rect x="370.2" y="280.5" width="148.2" height="74.1" fill="none" stroke="#4a4a4a" stroke-width="1.1"/>
<line x1="368.6" y1="354.6" x2="370.2" y2="354.6" stroke="#4a4a4a" stroke-width="0.7"/>
<text transform="translate(366,356.85) rotate(0.05)" font-size="5.45" text-anchor="end" stroke="#222" stroke-width="0.2" fill="#222">0</text>
<line x1="368.6" y1="339.78" x2="370.2" y2="339.78" stroke="#4a4a4a" stroke-width="0.7"/>
<text transform="translate(366,342.03) rotate(0.05)" font-size="5.45" text-anchor="end" stroke="#222" stroke-width="0.2" fill="#222">50</text>
<line x1="368.6" y1="324.96" x2="370.2" y2="324.96" stroke="#4a4a4a" stroke-width="0.7"/>
<text transform="translate(366,327.21) rotate(0.05)" font-size="5.45" text-anchor="end" stroke="#222" stroke-width="0.2" fill="#222">100</text>
<line x1="368.6" y1="310.14" x2="370.2" y2="310.14" stroke="#4a4a4a" stroke-width="0.7"/>
<text transform="translate(366,312.39) rotate(0.05)" font-size="5.45" text-anchor="end" stroke="#222" stroke-width="0.2" fill="#222">150</text>
<line x1="368.6" y1="295.32" x2="370.2" y2="295.32" stroke="#4a4a4a" stroke-width="0.7"/>
<text transform="translate(366,297.57) rotate(0.05)" font-size="5.45" text-anchor="end" stroke="#222" stroke-width="0.2" fill="#222">200</text>
<line x1="368.6" y1="280.5" x2="370.2" y2="280.5" stroke="#4a4a4a" stroke-width="0.7"/>
<text transform="translate(366,282.75) rotate(0.05)" font-size="5.45" text-anchor="end" stroke="#222" stroke-width="0.2" fill="#222">250</text>
<rect x="384.25" y="352.5" width="20" height="2.4" fill="#050505"/>
<line x1="394.25" y1="352.5" x2="394.25" y2="351.75" stroke="#111" stroke-width="1.05"/>
<line x1="391.45" y1="351.75" x2="397.05" y2="351.75" stroke="#111" stroke-width="1.15"/>
<rect x="409.5" y="308.75" width="20" height="46.15" fill="#050505"/>
<line x1="419.5" y1="308.75" x2="419.5" y2="286.75" stroke="#111" stroke-width="1.05"/>
<line x1="416.7" y1="286.75" x2="422.3" y2="286.75" stroke="#111" stroke-width="1.15"/>
<rect x="434.5" y="333" width="20" height="21.9" fill="#050505"/>
<line x1="444.5" y1="333" x2="444.5" y2="301.25" stroke="#111" stroke-width="1.05"/>
<line x1="441.7" y1="301.25" x2="447.3" y2="301.25" stroke="#111" stroke-width="1.15"/>
<rect x="459.5" y="345" width="20" height="9.9" fill="#050505"/>
<line x1="469.5" y1="345" x2="469.5" y2="330.75" stroke="#111" stroke-width="1.05"/>
<line x1="466.7" y1="330.75" x2="472.3" y2="330.75" stroke="#111" stroke-width="1.15"/>
<rect x="484.5" y="348" width="20.5" height="6.9" fill="#050505"/>
<line x1="494.75" y1="348" x2="494.75" y2="332.5" stroke="#111" stroke-width="1.05"/>
<line x1="491.95" y1="332.5" x2="497.55" y2="332.5" stroke="#111" stroke-width="1.15"/>
<text transform="translate(446.25,297.41) rotate(0.05)" font-size="5.9" text-anchor="middle" stroke="#222" stroke-width="0.2" fill="#222">p=0.038</text>
<text transform="translate(469.25,324.41) rotate(0.05)" font-size="5.9" text-anchor="middle" stroke="#222" stroke-width="0.2" fill="#222">p=0.0001</text>
<text transform="translate(495,330.71) rotate(0.05)" font-size="5.9" text-anchor="middle" stroke="#222" stroke-width="0.2" fill="#222">p=0.00006</text>
<text transform="translate(392,366.58) rotate(0.05)" font-size="5.8" text-anchor="middle" stroke="#222" stroke-width="0.2" fill="#222">BL NL</text>
<text transform="translate(418.75,366.58) rotate(0.05)" font-size="5.8" text-anchor="middle" stroke="#222" stroke-width="0.2" fill="#222">BL LS</text>
<text transform="translate(442.5,366.58) rotate(0.05)" font-size="5.8" text-anchor="middle" stroke="#222" stroke-width="0.2" fill="#222">1 Month</text>
<text transform="translate(469.5,366.58) rotate(0.05)" font-size="5.8" text-anchor="middle" stroke="#222" stroke-width="0.2" fill="#222">3 Months</text>
<text transform="translate(496.25,366.58) rotate(0.05)" font-size="5.8" text-anchor="middle" stroke="#222" stroke-width="0.2" fill="#222">6 Months</text>
<text transform="translate(439.25,269.42) rotate(0.05)" font-size="8.15" text-anchor="middle" font-weight="bold" stroke="#000" stroke-width="0.2" fill="#000">iNOS</text>
</g>
<g id="IP-10">
<path d="M18 411.75H164.25V483.25" fill="none" stroke="#6a6a6a" stroke-width="1"/>
<path d="M18 411.75V483.25H164.25" fill="none" stroke="#9a9a9a" stroke-width="1.1"/>
<line x1="16.4" y1="483.25" x2="18" y2="483.25" stroke="#4a4a4a" stroke-width="0.7"/>
<text transform="translate(14.1,485.7) rotate(0.05)" font-size="6.0" text-anchor="end" stroke="#222" stroke-width="0.2" fill="#222">0</text>
<line x1="16.4" y1="465.38" x2="18" y2="465.38" stroke="#4a4a4a" stroke-width="0.7"/>
<text transform="translate(14.1,467.82) rotate(0.05)" font-size="6.0" text-anchor="end" stroke="#222" stroke-width="0.2" fill="#222">10</text>
<line x1="16.4" y1="447.5" x2="18" y2="447.5" stroke="#4a4a4a" stroke-width="0.7"/>
<text transform="translate(14.1,449.95) rotate(0.05)" font-size="6.0" text-anchor="end" stroke="#222" stroke-width="0.2" fill="#222">20</text>
<line x1="16.4" y1="429.62" x2="18" y2="429.62" stroke="#4a4a4a" stroke-width="0.7"/>
<text transform="translate(14.1,432.07) rotate(0.05)" font-size="6.0" text-anchor="end" stroke="#222" stroke-width="0.2" fill="#222">30</text>
<line x1="16.4" y1="411.75" x2="18" y2="411.75" stroke="#4a4a4a" stroke-width="0.7"/>
<text transform="translate(14.1,414.2) rotate(0.05)" font-size="6.0" text-anchor="end" stroke="#222" stroke-width="0.2" fill="#222">40</text>
<line x1="17" y1="474.31" x2="18" y2="474.31" stroke="#8a8a8a" stroke-width="0.5"/>
<line x1="17" y1="456.44" x2="18" y2="456.44" stroke="#8a8a8a" stroke-width="0.5"/>
<line x1="17" y1="438.56" x2="18" y2="438.56" stroke="#8a8a8a" stroke-width="0.5"/>
<line x1="17" y1="420.69" x2="18" y2="420.69" stroke="#8a8a8a" stroke-width="0.5"/>
<line x1="47.25" y1="483.25" x2="47.25" y2="485.25" stroke="#4a4a4a" stroke-width="0.7"/>
<line x1="76.5" y1="483.25" x2="76.5" y2="485.25" stroke="#4a4a4a" stroke-width="0.7"/>
<line x1="105.75" y1="483.25" x2="105.75" y2="485.25" stroke="#4a4a4a" stroke-width="0.7"/>
<line x1="135" y1="483.25" x2="135" y2="485.25" stroke="#4a4a4a" stroke-width="0.7"/>
<line x1="164.25" y1="483.25" x2="164.25" y2="485.25" stroke="#4a4a4a" stroke-width="0.7"/>
<rect x="22.5" y="480.75" width="19.25" height="2.8" fill="#050505"/>
<line x1="32.12" y1="480.75" x2="32.12" y2="478.25" stroke="#111" stroke-width="1.05"/>
<line x1="29.32" y1="478.25" x2="34.92" y2="478.25" stroke="#111" stroke-width="1.15"/>
<rect x="51.75" y="448" width="19" height="35.55" fill="#050505"/>
<line x1="61.25" y1="448" x2="61.25" y2="412" stroke="#111" stroke-width="1.05"/>
<line x1="58.45" y1="412" x2="64.05" y2="412" stroke="#111" stroke-width="1.15"/>
<rect x="80.5" y="461.75" width="19" height="21.8" fill="#050505"/>
<line x1="90" y1="461.75" x2="90" y2="427.5" stroke="#111" stroke-width="1.05"/>
<line x1="87.2" y1="427.5" x2="92.8" y2="427.5" stroke="#111" stroke-width="1.15"/>
<rect x="109.5" y="468.25" width="18.75" height="15.3" fill="#050505"/>
<line x1="118.88" y1="468.25" x2="118.88" y2="433.25" stroke="#111" stroke-width="1.05"/>
<line x1="116.08" y1="433.25" x2="121.67" y2="433.25" stroke="#111" stroke-width="1.15"/>
<rect x="138.25" y="477.5" width="19.25" height="6.05" fill="#050505"/>
<line x1="147.88" y1="477.5" x2="147.88" y2="467" stroke="#111" stroke-width="1.05"/>
<line x1="145.07" y1="467" x2="150.68" y2="467" stroke="#111" stroke-width="1.15"/>
<text transform="translate(86.25,421.91) rotate(0.05)" font-size="5.9" text-anchor="middle" stroke="#222" stroke-width="0.2" fill="#222">p=0.06</text>
<text transform="translate(115,428.16) rotate(0.05)" font-size="5.9" text-anchor="middle" stroke="#222" stroke-width="0.2" fill="#222">p=0.02</text>
<text transform="translate(145.5,463.16) rotate(0.05)" font-size="5.9" text-anchor="middle" stroke="#222" stroke-width="0.2" fill="#222">p=0.007</text>
<text transform="translate(35.75,501.61) rotate(0.05)" font-size="5.9" text-anchor="middle" stroke="#222" stroke-width="0.2" fill="#222">BL NL</text>
<text transform="translate(61.25,501.61) rotate(0.05)" font-size="5.9" text-anchor="middle" stroke="#222" stroke-width="0.2" fill="#222">BL LS</text>
<text transform="translate(85.75,501.61) rotate(0.05)" font-size="5.9" text-anchor="middle" stroke="#222" stroke-width="0.2" fill="#222">1 Month</text>
<text transform="translate(115.25,501.61) rotate(0.05)" font-size="5.9" text-anchor="middle" stroke="#222" stroke-width="0.2" fill="#222">3 Months</text>
<text transform="translate(146.75,501.61) rotate(0.05)" font-size="5.9" text-anchor="middle" stroke="#222" stroke-width="0.2" fill="#222">6 Months</text>
<text transform="translate(81.25,395.92) rotate(0.05)" font-size="8.15" text-anchor="middle" font-weight="bold" stroke="#000" stroke-width="0.2" fill="#000">IP-10</text>
</g>
<g id="CD83">
<rect x="192.2" y="410.6" width="153.2" height="77.6" fill="none" stroke="#4a4a4a" stroke-width="1.1"/>
<line x1="190.6" y1="488.2" x2="192.2" y2="488.2" stroke="#4a4a4a" stroke-width="0.7"/>
<text transform="translate(188.7,490.43) rotate(0.05)" font-size="5.4" text-anchor="end" stroke="#222" stroke-width="0.2" fill="#222">0</text>
<line x1="190.6" y1="475.27" x2="192.2" y2="475.27" stroke="#4a4a4a" stroke-width="0.7"/>
<text transform="translate(188.7,477.5) rotate(0.05)" font-size="5.4" text-anchor="end" stroke="#222" stroke-width="0.2" fill="#222">5</text>
<line x1="190.6" y1="462.33" x2="192.2" y2="462.33" stroke="#4a4a4a" stroke-width="0.7"/>
<text transform="translate(188.7,464.57) rotate(0.05)" font-size="5.4" text-anchor="end" stroke="#222" stroke-width="0.2" fill="#222">10</text>
<line x1="190.6" y1="449.4" x2="192.2" y2="449.4" stroke="#4a4a4a" stroke-width="0.7"/>
<text transform="translate(188.7,451.63) rotate(0.05)" font-size="5.4" text-anchor="end" stroke="#222" stroke-width="0.2" fill="#222">15</text>
<line x1="190.6" y1="436.47" x2="192.2" y2="436.47" stroke="#4a4a4a" stroke-width="0.7"/>
<text transform="translate(188.7,438.7) rotate(0.05)" font-size="5.4" text-anchor="end" stroke="#222" stroke-width="0.2" fill="#222">20</text>
<line x1="190.6" y1="423.53" x2="192.2" y2="423.53" stroke="#4a4a4a" stroke-width="0.7"/>
<text transform="translate(188.7,425.77) rotate(0.05)" font-size="5.4" text-anchor="end" stroke="#222" stroke-width="0.2" fill="#222">25</text>
<line x1="190.6" y1="410.6" x2="192.2" y2="410.6" stroke="#4a4a4a" stroke-width="0.7"/>
<text transform="translate(188.7,412.83) rotate(0.05)" font-size="5.4" text-anchor="end" stroke="#222" stroke-width="0.2" fill="#222">30</text>
<line x1="191.2" y1="485.61" x2="192.2" y2="485.61" stroke="#8a8a8a" stroke-width="0.5"/>
<line x1="191.2" y1="483.03" x2="192.2" y2="483.03" stroke="#8a8a8a" stroke-width="0.5"/>
<line x1="191.2" y1="480.44" x2="192.2" y2="480.44" stroke="#8a8a8a" stroke-width="0.5"/>
<line x1="191.2" y1="477.85" x2="192.2" y2="477.85" stroke="#8a8a8a" stroke-width="0.5"/>
<line x1="191.2" y1="472.68" x2="192.2" y2="472.68" stroke="#8a8a8a" stroke-width="0.5"/>
<line x1="191.2" y1="470.09" x2="192.2" y2="470.09" stroke="#8a8a8a" stroke-width="0.5"/>
<line x1="191.2" y1="467.51" x2="192.2" y2="467.51" stroke="#8a8a8a" stroke-width="0.5"/>
<line x1="191.2" y1="464.92" x2="192.2" y2="464.92" stroke="#8a8a8a" stroke-width="0.5"/>
<line x1="191.2" y1="459.75" x2="192.2" y2="459.75" stroke="#8a8a8a" stroke-width="0.5"/>
<line x1="191.2" y1="457.16" x2="192.2" y2="457.16" stroke="#8a8a8a" stroke-width="0.5"/>
<line x1="191.2" y1="454.57" x2="192.2" y2="454.57" stroke="#8a8a8a" stroke-width="0.5"/>
<line x1="191.2" y1="451.99" x2="192.2" y2="451.99" stroke="#8a8a8a" stroke-width="0.5"/>
<line x1="191.2" y1="446.81" x2="192.2" y2="446.81" stroke="#8a8a8a" stroke-width="0.5"/>
<line x1="191.2" y1="444.23" x2="192.2" y2="444.23" stroke="#8a8a8a" stroke-width="0.5"/>
<line x1="191.2" y1="441.64" x2="192.2" y2="441.64" stroke="#8a8a8a" stroke-width="0.5"/>
<line x1="191.2" y1="439.05" x2="192.2" y2="439.05" stroke="#8a8a8a" stroke-width="0.5"/>
<line x1="191.2" y1="433.88" x2="192.2" y2="433.88" stroke="#8a8a8a" stroke-width="0.5"/>
<line x1="191.2" y1="431.29" x2="192.2" y2="431.29" stroke="#8a8a8a" stroke-width="0.5"/>
<line x1="191.2" y1="428.71" x2="192.2" y2="428.71" stroke="#8a8a8a" stroke-width="0.5"/>
<line x1="191.2" y1="426.12" x2="192.2" y2="426.12" stroke="#8a8a8a" stroke-width="0.5"/>
<line x1="191.2" y1="420.95" x2="192.2" y2="420.95" stroke="#8a8a8a" stroke-width="0.5"/>
<line x1="191.2" y1="418.36" x2="192.2" y2="418.36" stroke="#8a8a8a" stroke-width="0.5"/>
<line x1="191.2" y1="415.77" x2="192.2" y2="415.77" stroke="#8a8a8a" stroke-width="0.5"/>
<line x1="191.2" y1="413.19" x2="192.2" y2="413.19" stroke="#8a8a8a" stroke-width="0.5"/>
<rect x="207" y="464.25" width="20.5" height="24.25" fill="#050505"/>
<line x1="217.25" y1="464.25" x2="217.25" y2="440" stroke="#111" stroke-width="1.05"/>
<line x1="214.45" y1="440" x2="220.05" y2="440" stroke="#111" stroke-width="1.15"/>
<rect x="232.5" y="442.5" width="20.5" height="46" fill="#050505"/>
<line x1="242.75" y1="442.5" x2="242.75" y2="425.75" stroke="#111" stroke-width="1.05"/>
<line x1="239.95" y1="425.75" x2="245.55" y2="425.75" stroke="#111" stroke-width="1.15"/>
<rect x="258.25" y="453.75" width="20.5" height="34.75" fill="#050505"/>
<line x1="268.5" y1="453.75" x2="268.5" y2="433" stroke="#111" stroke-width="1.05"/>
<line x1="265.7" y1="433" x2="271.3" y2="433" stroke="#111" stroke-width="1.15"/>
<rect x="283.75" y="455" width="20.75" height="33.5" fill="#050505"/>
<line x1="294.12" y1="455" x2="294.12" y2="420.5" stroke="#111" stroke-width="1.05"/>
<line x1="291.32" y1="420.5" x2="296.93" y2="420.5" stroke="#111" stroke-width="1.15"/>
<rect x="310" y="460.75" width="20.5" height="27.75" fill="#050505"/>
<line x1="320.25" y1="460.75" x2="320.25" y2="443.25" stroke="#111" stroke-width="1.05"/>
<line x1="317.45" y1="443.25" x2="323.05" y2="443.25" stroke="#111" stroke-width="1.15"/>
<text transform="translate(270,430.66) rotate(0.05)" font-size="5.9" text-anchor="middle" stroke="#222" stroke-width="0.2" fill="#222">p=0.18</text>
<text transform="translate(295,418.16) rotate(0.05)" font-size="5.9" text-anchor="middle" stroke="#222" stroke-width="0.2" fill="#222">p=0.18</text>
<text transform="translate(320,440.66) rotate(0.05)" font-size="5.9" text-anchor="middle" stroke="#222" stroke-width="0.2" fill="#222">p=0.02</text>
<text transform="translate(214.25,501.36) rotate(0.05)" font-size="5.9" text-anchor="middle" stroke="#222" stroke-width="0.2" fill="#222">BL NL</text>
<text transform="translate(240.75,501.36) rotate(0.05)" font-size="5.9" text-anchor="middle" stroke="#222" stroke-width="0.2" fill="#222">BL LS</text>
<text transform="translate(265.75,501.36) rotate(0.05)" font-size="5.9" text-anchor="middle" stroke="#222" stroke-width="0.2" fill="#222">1 Month</text>
<text transform="translate(293.75,501.36) rotate(0.05)" font-size="5.9" text-anchor="middle" stroke="#222" stroke-width="0.2" fill="#222">3 Months</text>
<text transform="translate(321.75,501.36) rotate(0.05)" font-size="5.9" text-anchor="middle" stroke="#222" stroke-width="0.2" fill="#222">6 Months</text>
<text transform="translate(255,394.92) rotate(0.05)" font-size="8.15" text-anchor="middle" font-weight="bold" stroke="#000" stroke-width="0.2" fill="#000">CD83</text>
</g>
<g id="MMP12">
<rect x="363.2" y="411.25" width="150.55" height="75.75" fill="none" stroke="#5c5c5c" stroke-width="1.1"/>
<line x1="361.6" y1="487" x2="363.2" y2="487" stroke="#4a4a4a" stroke-width="0.7"/>
<text transform="translate(359,489.52) rotate(0.05)" font-size="6.2" text-anchor="end" stroke="#222" stroke-width="0.2" fill="#222">0</text>
<line x1="361.6" y1="475.52" x2="363.2" y2="475.52" stroke="#4a4a4a" stroke-width="0.7"/>
<text transform="translate(359,478.04) rotate(0.05)" font-size="6.2" text-anchor="end" stroke="#222" stroke-width="0.2" fill="#222">5</text>
<line x1="361.6" y1="464.05" x2="363.2" y2="464.05" stroke="#4a4a4a" stroke-width="0.7"/>
<text transform="translate(359,466.57) rotate(0.05)" font-size="6.2" text-anchor="end" stroke="#222" stroke-width="0.2" fill="#222">10</text>
<line x1="361.6" y1="452.57" x2="363.2" y2="452.57" stroke="#4a4a4a" stroke-width="0.7"/>
<text transform="translate(359,455.09) rotate(0.05)" font-size="6.2" text-anchor="end" stroke="#222" stroke-width="0.2" fill="#222">15</text>
<line x1="361.6" y1="441.09" x2="363.2" y2="441.09" stroke="#4a4a4a" stroke-width="0.7"/>
<text transform="translate(359,443.61) rotate(0.05)" font-size="6.2" text-anchor="end" stroke="#222" stroke-width="0.2" fill="#222">20</text>
<line x1="361.6" y1="429.61" x2="363.2" y2="429.61" stroke="#4a4a4a" stroke-width="0.7"/>
<text transform="translate(359,432.13) rotate(0.05)" font-size="6.2" text-anchor="end" stroke="#222" stroke-width="0.2" fill="#222">25</text>
<line x1="361.6" y1="418.14" x2="363.2" y2="418.14" stroke="#4a4a4a" stroke-width="0.7"/>
<text transform="translate(359,420.66) rotate(0.05)" font-size="6.2" text-anchor="end" stroke="#222" stroke-width="0.2" fill="#222">30</text>
<rect x="381.25" y="472" width="20.5" height="15.3" fill="#050505"/>
<line x1="391.5" y1="472" x2="391.5" y2="450" stroke="#111" stroke-width="1.05"/>
<line x1="388.7" y1="450" x2="394.3" y2="450" stroke="#111" stroke-width="1.15"/>
<rect x="407" y="446.25" width="21" height="41.05" fill="#050505"/>
<line x1="417.5" y1="446.25" x2="417.5" y2="423.25" stroke="#111" stroke-width="1.05"/>
<line x1="414.7" y1="423.25" x2="420.3" y2="423.25" stroke="#111" stroke-width="1.15"/>
<rect x="433.25" y="461.25" width="20.5" height="26.05" fill="#050505"/>
<line x1="443.5" y1="461.25" x2="443.5" y2="429.5" stroke="#111" stroke-width="1.05"/>
<line x1="440.7" y1="429.5" x2="446.3" y2="429.5" stroke="#111" stroke-width="1.15"/>
<rect x="459.25" y="479.25" width="20.75" height="8.05" fill="#050505"/>
<line x1="469.62" y1="479.25" x2="469.62" y2="470.5" stroke="#111" stroke-width="1.05"/>
<line x1="466.82" y1="470.5" x2="472.43" y2="470.5" stroke="#111" stroke-width="1.15"/>
<rect x="485.5" y="477.5" width="20.75" height="9.8" fill="#050505"/>
<line x1="495.88" y1="477.5" x2="495.88" y2="460.5" stroke="#111" stroke-width="1.05"/>
<line x1="493.07" y1="460.5" x2="498.68" y2="460.5" stroke="#111" stroke-width="1.15"/>
<text transform="translate(444.25,426.91) rotate(0.05)" font-size="5.9" text-anchor="middle" stroke="#222" stroke-width="0.2" fill="#222">p=0.03</text>
<text transform="translate(470.5,466.41) rotate(0.05)" font-size="5.9" text-anchor="middle" stroke="#222" stroke-width="0.2" fill="#222">p=0.0005</text>
<text transform="translate(493,456.16) rotate(0.05)" font-size="5.9" text-anchor="middle" stroke="#222" stroke-width="0.2" fill="#222">p=0.0006</text>
<text transform="translate(383.75,498.86) rotate(0.05)" font-size="5.9" text-anchor="middle" stroke="#222" stroke-width="0.2" fill="#222">BL NL</text>
<text transform="translate(409.25,498.86) rotate(0.05)" font-size="5.9" text-anchor="middle" stroke="#222" stroke-width="0.2" fill="#222">BL LS</text>
<text transform="translate(433.75,498.86) rotate(0.05)" font-size="5.9" text-anchor="middle" stroke="#222" stroke-width="0.2" fill="#222">1 Month</text>
<text transform="translate(460,498.86) rotate(0.05)" font-size="5.9" text-anchor="middle" stroke="#222" stroke-width="0.2" fill="#222">3 Months</text>
<text transform="translate(487,498.86) rotate(0.05)" font-size="5.9" text-anchor="middle" stroke="#222" stroke-width="0.2" fill="#222">6 Months</text>
<text transform="translate(425,397.02) rotate(0.05)" font-size="8.15" text-anchor="middle" font-weight="bold" stroke="#000" stroke-width="0.2" fill="#000">MMP12</text>
</g>
<g id="IFNg">
<rect x="16.3" y="544.5" width="156.3" height="77.5" fill="none" stroke="#4a4a4a" stroke-width="1.1"/>
<line x1="14.7" y1="622" x2="16.3" y2="622" stroke="#4a4a4a" stroke-width="0.7"/>
<text transform="translate(12.9,624.52) rotate(0.05)" font-size="6.2" text-anchor="end" stroke="#222" stroke-width="0.2" fill="#222">0</text>
<line x1="14.7" y1="609.08" x2="16.3" y2="609.08" stroke="#4a4a4a" stroke-width="0.7"/>
<text transform="translate(12.9,611.6) rotate(0.05)" font-size="6.2" text-anchor="end" stroke="#222" stroke-width="0.2" fill="#222">5</text>
<line x1="14.7" y1="596.17" x2="16.3" y2="596.17" stroke="#4a4a4a" stroke-width="0.7"/>
<text transform="translate(12.9,598.69) rotate(0.05)" font-size="6.2" text-anchor="end" stroke="#222" stroke-width="0.2" fill="#222">10</text>
<line x1="14.7" y1="583.25" x2="16.3" y2="583.25" stroke="#4a4a4a" stroke-width="0.7"/>
<text transform="translate(12.9,585.77) rotate(0.05)" font-size="6.2" text-anchor="end" stroke="#222" stroke-width="0.2" fill="#222">15</text>
<line x1="14.7" y1="570.33" x2="16.3" y2="570.33" stroke="#4a4a4a" stroke-width="0.7"/>
<text transform="translate(12.9,572.85) rotate(0.05)" font-size="6.2" text-anchor="end" stroke="#222" stroke-width="0.2" fill="#222">20</text>
<line x1="14.7" y1="557.42" x2="16.3" y2="557.42" stroke="#4a4a4a" stroke-width="0.7"/>
<text transform="translate(12.9,559.94) rotate(0.05)" font-size="6.2" text-anchor="end" stroke="#222" stroke-width="0.2" fill="#222">25</text>
<line x1="14.7" y1="544.5" x2="16.3" y2="544.5" stroke="#4a4a4a" stroke-width="0.7"/>
<text transform="translate(12.9,547.02) rotate(0.05)" font-size="6.2" text-anchor="end" stroke="#222" stroke-width="0.2" fill="#222">30</text>
<rect x="31.75" y="610" width="20.75" height="12.3" fill="#050505"/>
<line x1="42.12" y1="610" x2="42.12" y2="594.5" stroke="#111" stroke-width="1.05"/>
<line x1="39.33" y1="594.5" x2="44.92" y2="594.5" stroke="#111" stroke-width="1.15"/>
<rect x="58" y="577" width="20.75" height="45.3" fill="#050505"/>
<line x1="68.38" y1="577" x2="68.38" y2="561.25" stroke="#111" stroke-width="1.05"/>
<line x1="65.58" y1="561.25" x2="71.17" y2="561.25" stroke="#111" stroke-width="1.15"/>
<rect x="84.25" y="587" width="20.75" height="35.3" fill="#050505"/>
<line x1="94.62" y1="587" x2="94.62" y2="559.25" stroke="#111" stroke-width="1.05"/>
<line x1="91.83" y1="559.25" x2="97.42" y2="559.25" stroke="#111" stroke-width="1.15"/>
<rect x="110.75" y="594" width="21" height="28.3" fill="#050505"/>
<line x1="121.25" y1="594" x2="121.25" y2="571.25" stroke="#111" stroke-width="1.05"/>
<line x1="118.45" y1="571.25" x2="124.05" y2="571.25" stroke="#111" stroke-width="1.15"/>
<rect x="137" y="598.75" width="21" height="23.55" fill="#050505"/>
<line x1="147.5" y1="598.75" x2="147.5" y2="565.75" stroke="#111" stroke-width="1.05"/>
<line x1="144.7" y1="565.75" x2="150.3" y2="565.75" stroke="#111" stroke-width="1.15"/>
<text transform="translate(96.25,556.41) rotate(0.05)" font-size="5.9" text-anchor="middle" stroke="#222" stroke-width="0.2" fill="#222">p=0.15</text>
<text transform="translate(120.5,568.91) rotate(0.05)" font-size="5.9" text-anchor="middle" stroke="#222" stroke-width="0.2" fill="#222">p=0.03</text>
<text transform="translate(147.5,562.66) rotate(0.05)" font-size="5.9" text-anchor="middle" stroke="#222" stroke-width="0.2" fill="#222">p=0.04</text>
<text transform="translate(41.25,639.06) rotate(0.05)" font-size="5.75" text-anchor="middle" stroke="#222" stroke-width="0.2" fill="#222">BL NL</text>
<text transform="translate(68,639.06) rotate(0.05)" font-size="5.75" text-anchor="middle" stroke="#222" stroke-width="0.2" fill="#222">BL LS</text>
<text transform="translate(92.5,639.06) rotate(0.05)" font-size="5.75" text-anchor="middle" stroke="#222" stroke-width="0.2" fill="#222">1 Month</text>
<text transform="translate(119.25,639.06) rotate(0.05)" font-size="5.75" text-anchor="middle" stroke="#222" stroke-width="0.2" fill="#222">3 Months</text>
<text transform="translate(146.25,639.06) rotate(0.05)" font-size="5.75" text-anchor="middle" stroke="#222" stroke-width="0.2" fill="#222">6 Months</text>
<text transform="translate(91.25,527.92) rotate(0.05)" font-size="8.15" text-anchor="middle" font-weight="bold" stroke="#000" stroke-width="0.2" fill="#000">IFN<tspan font-weight="normal" stroke-width="0.1" font-family="Liberation Serif, serif" font-size="9.15" dx="1.4">γ</tspan></text>
</g>
<g id="GzmB">
<rect x="192.2" y="541.25" width="149.8" height="80.25" fill="none" stroke="#4a4a4a" stroke-width="1.1"/>
<line x1="190.6" y1="621.5" x2="192.2" y2="621.5" stroke="#4a4a4a" stroke-width="0.7"/>
<text transform="translate(189,623.91) rotate(0.05)" font-size="5.9" text-anchor="end" stroke="#222" stroke-width="0.2" fill="#222">0</text>
<line x1="190.6" y1="603.77" x2="192.2" y2="603.77" stroke="#4a4a4a" stroke-width="0.7"/>
<text transform="translate(189,606.18) rotate(0.05)" font-size="5.9" text-anchor="end" stroke="#222" stroke-width="0.2" fill="#222">20</text>
<line x1="190.6" y1="586.03" x2="192.2" y2="586.03" stroke="#4a4a4a" stroke-width="0.7"/>
<text transform="translate(189,588.44) rotate(0.05)" font-size="5.9" text-anchor="end" stroke="#222" stroke-width="0.2" fill="#222">40</text>
<line x1="190.6" y1="568.3" x2="192.2" y2="568.3" stroke="#4a4a4a" stroke-width="0.7"/>
<text transform="translate(189,570.71) rotate(0.05)" font-size="5.9" text-anchor="end" stroke="#222" stroke-width="0.2" fill="#222">60</text>
<line x1="190.6" y1="550.56" x2="192.2" y2="550.56" stroke="#4a4a4a" stroke-width="0.7"/>
<text transform="translate(189,552.97) rotate(0.05)" font-size="5.9" text-anchor="end" stroke="#222" stroke-width="0.2" fill="#222">80</text>
<line x1="191.2" y1="617.07" x2="192.2" y2="617.07" stroke="#8a8a8a" stroke-width="0.5"/>
<line x1="191.2" y1="612.63" x2="192.2" y2="612.63" stroke="#8a8a8a" stroke-width="0.5"/>
<line x1="191.2" y1="608.2" x2="192.2" y2="608.2" stroke="#8a8a8a" stroke-width="0.5"/>
<line x1="191.2" y1="599.33" x2="192.2" y2="599.33" stroke="#8a8a8a" stroke-width="0.5"/>
<line x1="191.2" y1="594.9" x2="192.2" y2="594.9" stroke="#8a8a8a" stroke-width="0.5"/>
<line x1="191.2" y1="590.46" x2="192.2" y2="590.46" stroke="#8a8a8a" stroke-width="0.5"/>
<line x1="191.2" y1="581.6" x2="192.2" y2="581.6" stroke="#8a8a8a" stroke-width="0.5"/>
<line x1="191.2" y1="577.16" x2="192.2" y2="577.16" stroke="#8a8a8a" stroke-width="0.5"/>
<line x1="191.2" y1="572.73" x2="192.2" y2="572.73" stroke="#8a8a8a" stroke-width="0.5"/>
<line x1="191.2" y1="563.86" x2="192.2" y2="563.86" stroke="#8a8a8a" stroke-width="0.5"/>
<line x1="191.2" y1="559.43" x2="192.2" y2="559.43" stroke="#8a8a8a" stroke-width="0.5"/>
<line x1="191.2" y1="554.99" x2="192.2" y2="554.99" stroke="#8a8a8a" stroke-width="0.5"/>
<line x1="191.2" y1="546.13" x2="192.2" y2="546.13" stroke="#8a8a8a" stroke-width="0.5"/>
<line x1="191.2" y1="541.69" x2="192.2" y2="541.69" stroke="#8a8a8a" stroke-width="0.5"/>
<rect x="206.75" y="614.5" width="20" height="7.3" fill="#050505"/>
<line x1="216.75" y1="614.5" x2="216.75" y2="603.75" stroke="#111" stroke-width="1.05"/>
<line x1="213.95" y1="603.75" x2="219.55" y2="603.75" stroke="#111" stroke-width="1.15"/>
<rect x="231.75" y="576.75" width="20.25" height="45.05" fill="#050505"/>
<line x1="241.88" y1="576.75" x2="241.88" y2="547" stroke="#111" stroke-width="1.05"/>
<line x1="239.07" y1="547" x2="244.68" y2="547" stroke="#111" stroke-width="1.15"/>
<rect x="257" y="599.5" width="20" height="22.3" fill="#050505"/>
<line x1="267" y1="599.5" x2="267" y2="570.5" stroke="#111" stroke-width="1.05"/>
<line x1="264.2" y1="570.5" x2="269.8" y2="570.5" stroke="#111" stroke-width="1.15"/>
<rect x="282.5" y="607.5" width="20" height="14.3" fill="#050505"/>
<line x1="292.5" y1="607.5" x2="292.5" y2="587.5" stroke="#111" stroke-width="1.05"/>
<line x1="289.7" y1="587.5" x2="295.3" y2="587.5" stroke="#111" stroke-width="1.15"/>
<rect x="307.5" y="615.75" width="20.5" height="6.05" fill="#050505"/>
<line x1="317.75" y1="615.75" x2="317.75" y2="610" stroke="#111" stroke-width="1.05"/>
<line x1="314.95" y1="610" x2="320.55" y2="610" stroke="#111" stroke-width="1.15"/>
<text transform="translate(268,566.91) rotate(0.05)" font-size="5.9" text-anchor="middle" stroke="#222" stroke-width="0.2" fill="#222">p=0.001</text>
<text transform="translate(294,584.41) rotate(0.05)" font-size="5.9" text-anchor="middle" stroke="#222" stroke-width="0.2" fill="#222">p=0.0004</text>
<text transform="translate(319.25,605.66) rotate(0.05)" font-size="5.9" text-anchor="middle" stroke="#222" stroke-width="0.2" fill="#222">p=0.001</text>
<text transform="translate(216.75,638.71) rotate(0.05)" font-size="5.9" text-anchor="middle" stroke="#222" stroke-width="0.2" fill="#222">BL NL</text>
<text transform="translate(243.75,638.71) rotate(0.05)" font-size="5.9" text-anchor="middle" stroke="#222" stroke-width="0.2" fill="#222">BL LS</text>
<text transform="translate(267,638.71) rotate(0.05)" font-size="5.9" text-anchor="middle" stroke="#222" stroke-width="0.2" fill="#222">1 Month</text>
<text transform="translate(295,638.71) rotate(0.05)" font-size="5.9" text-anchor="middle" stroke="#222" stroke-width="0.2" fill="#222">3 Months</text>
<text transform="translate(321.75,638.71) rotate(0.05)" font-size="5.9" text-anchor="middle" stroke="#222" stroke-width="0.2" fill="#222">6 Months</text>
<text transform="translate(257.5,527.52) rotate(0.05)" font-size="8.15" text-anchor="middle" font-weight="bold" stroke="#000" stroke-width="0.2" fill="#000">Granzyme B</text>
</g>
<text transform="translate(6.5,71.3) rotate(-89.95)" font-size="5.9" font-weight="bold" stroke="#000" stroke-width="0.2" text-anchor="middle" fill="#000">Normalized to hARP</text>
<g id="scatter">
<rect x="373.25" y="536.4" width="141.45" height="83.2" fill="none" stroke="#4a4a4a" stroke-width="1.1"/>
<line x1="371.65" y1="618.83" x2="373.25" y2="618.83" stroke="#4a4a4a" stroke-width="0.7"/>
<text transform="translate(370.05,621.39) rotate(0.05)" font-size="6.6" text-anchor="end" stroke="#222" stroke-width="0.2" fill="#222">-8</text>
<line x1="371.65" y1="600.59" x2="373.25" y2="600.59" stroke="#4a4a4a" stroke-width="0.7"/>
<text transform="translate(370.05,603.15) rotate(0.05)" font-size="6.6" text-anchor="end" stroke="#222" stroke-width="0.2" fill="#222">-4</text>
<line x1="371.65" y1="582.35" x2="373.25" y2="582.35" stroke="#4a4a4a" stroke-width="0.7"/>
<text transform="translate(370.05,584.91) rotate(0.05)" font-size="6.6" text-anchor="end" stroke="#222" stroke-width="0.2" fill="#222">0</text>
<line x1="371.65" y1="564.11" x2="373.25" y2="564.11" stroke="#4a4a4a" stroke-width="0.7"/>
<text transform="translate(370.05,566.67) rotate(0.05)" font-size="6.6" text-anchor="end" stroke="#222" stroke-width="0.2" fill="#222">4</text>
<line x1="371.65" y1="545.87" x2="373.25" y2="545.87" stroke="#4a4a4a" stroke-width="0.7"/>
<text transform="translate(370.05,548.43) rotate(0.05)" font-size="6.6" text-anchor="end" stroke="#222" stroke-width="0.2" fill="#222">8</text>
<line x1="373.45" y1="619.6" x2="373.45" y2="621.2" stroke="#4a4a4a" stroke-width="0.7"/>
<text transform="translate(374.05,629.75) rotate(0.05)" font-size="6.0" text-anchor="middle" stroke="#222" stroke-width="0.2" fill="#222">-10</text>
<line x1="408.85" y1="619.6" x2="408.85" y2="621.2" stroke="#4a4a4a" stroke-width="0.7"/>
<text transform="translate(409.45,629.75) rotate(0.05)" font-size="6.0" text-anchor="middle" stroke="#222" stroke-width="0.2" fill="#222">-5</text>
<line x1="444.25" y1="619.6" x2="444.25" y2="621.2" stroke="#4a4a4a" stroke-width="0.7"/>
<text transform="translate(444.25,629.75) rotate(0.05)" font-size="6.0" text-anchor="middle" stroke="#222" stroke-width="0.2" fill="#222">0</text>
<line x1="479.65" y1="619.6" x2="479.65" y2="621.2" stroke="#4a4a4a" stroke-width="0.7"/>
<text transform="translate(479.65,629.75) rotate(0.05)" font-size="6.0" text-anchor="middle" stroke="#222" stroke-width="0.2" fill="#222">5</text>
<line x1="515.05" y1="619.6" x2="515.05" y2="621.2" stroke="#4a4a4a" stroke-width="0.7"/>
<text transform="translate(515.05,629.75) rotate(0.05)" font-size="6.0" text-anchor="middle" stroke="#222" stroke-width="0.2" fill="#222">10</text>
<line x1="379.82" y1="611.08" x2="500.89" y2="555.45" stroke="#000" stroke-width="2.1"/>
<rect x="378.68" y="608.32" width="3.7" height="3.7" fill="#000"/>
<rect x="399.92" y="590.08" width="3.7" height="3.7" fill="#000"/>
<rect x="399.92" y="608.32" width="3.7" height="3.7" fill="#000"/>
<rect x="428.24" y="585.06" width="3.7" height="3.7" fill="#000"/>
<rect x="442.4" y="580.5" width="3.7" height="3.7" fill="#000"/>
<rect x="449.48" y="589.62" width="3.7" height="3.7" fill="#000"/>
<rect x="463.64" y="566.82" width="3.7" height="3.7" fill="#000"/>
<rect x="470.72" y="575.94" width="3.7" height="3.7" fill="#000"/>
<rect x="491.96" y="544.02" width="3.7" height="3.7" fill="#000"/>
<rect x="499.04" y="557.7" width="3.7" height="3.7" fill="#000"/>
<text transform="translate(380.6,550.68) rotate(0.05)" font-size="7.5" text-anchor="start" stroke="#222" stroke-width="0.2" fill="#222">r=0.91</text>
<rect x="475" y="587.7" width="39.5" height="31.6" fill="#fff" stroke="#111" stroke-width="1.15"/>
<text transform="translate(495,596.05) rotate(0.05)" font-size="8.8" text-anchor="middle" stroke="#222" stroke-width="0.2" fill="#222">IL-1</text>
<text transform="translate(495,605.65) rotate(0.05)" font-size="8.8" text-anchor="middle" stroke="#222" stroke-width="0.2" fill="#222">STAT-1</text>
<text transform="translate(495,616.05) rotate(0.05)" font-size="8.8" text-anchor="middle" stroke="#222" stroke-width="0.2" fill="#222">IL-12p40</text>
<text transform="translate(447.5,637.67) rotate(0.05)" font-size="9.4" text-anchor="middle" stroke="#222" stroke-width="0.2" fill="#222">Pathway score</text>
<text transform="translate(360.8,573) rotate(-89.95)" font-size="9.9" text-anchor="middle" fill="#222">Response score</text>
</g>
</g>
</svg>
</body></html>
